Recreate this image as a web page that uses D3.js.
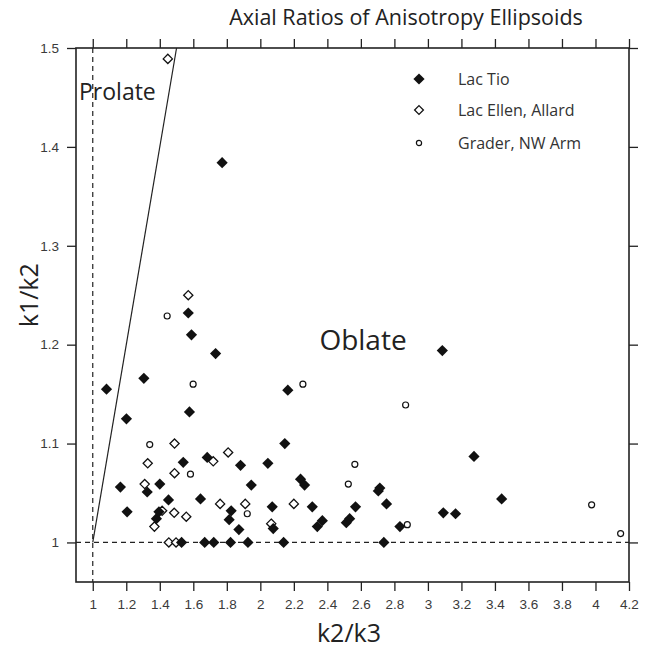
<!DOCTYPE html>
<html>
<head>
<meta charset="utf-8">
<script src="https://cdn.jsdelivr.net/npm/d3@7"></script>
<style>
  body { margin: 0; background: #fff; }
  svg { font-family: "Open Sans", "Noto Sans", sans-serif; }
</style>
</head>
<body>
<svg id="chart" width="649" height="650"></svg>
<script>
'use strict';

// Lac Tio  (filled diamonds) : [k2/k3, k1/k2]
var lacTio = [
	[1.772, 1.384], [1.570, 1.232], [1.589, 1.210], [1.733, 1.191], [1.305, 1.166],
	[1.082, 1.155], [1.201, 1.125], [1.577, 1.132], [1.540, 1.081], [1.683, 1.086],
	[1.882, 1.078], [1.946, 1.058], [1.165, 1.056], [1.205, 1.031], [1.325, 1.051],
	[1.400, 1.059], [1.452, 1.043], [1.643, 1.044], [1.380, 1.024], [1.395, 1.031],
	[1.826, 1.032], [1.814, 1.023], [1.872, 1.013],
	[1.530, 1.000], [1.668, 1.000], [1.722, 1.000], [1.822, 1.000], [1.926, 1.000],
	[2.139, 1.000], [2.737, 1.000],
	[2.164, 1.154], [2.146, 1.100], [2.045, 1.080], [2.240, 1.064], [2.264, 1.058],
	[2.713, 1.055], [2.704, 1.052], [2.071, 1.036], [2.310, 1.036], [2.568, 1.036],
	[2.753, 1.039], [2.077, 1.014], [2.340, 1.016], [2.370, 1.022], [2.513, 1.020],
	[2.533, 1.024], [2.833, 1.016], [3.092, 1.030], [3.165, 1.029], [3.275, 1.087],
	[3.440, 1.044], [3.086, 1.194]
];

// Lac Ellen, Allard (open diamonds)
var lacEllen = [
	[1.448, 1.489], [1.570, 1.250], [1.488, 1.100], [1.328, 1.080], [1.488, 1.070],
	[1.719, 1.082], [1.808, 1.091], [1.310, 1.059], [1.414, 1.032], [1.368, 1.016],
	[1.486, 1.030], [1.558, 1.026], [1.760, 1.039], [1.910, 1.039], [2.200, 1.039],
	[2.065, 1.019], [1.454, 1.000], [1.497, 1.000]
];

// Grader, NW Arm (open circles)
var grader = [
	[1.444, 1.229], [1.599, 1.160], [1.340, 1.099], [1.583, 1.069], [1.922, 1.029],
	[2.254, 1.160], [2.867, 1.139], [2.564, 1.079], [2.525, 1.059], [2.877, 1.018],
	[3.977, 1.038], [4.150, 1.009]
];

var xTicks = [1, 1.2, 1.4, 1.6, 1.8, 2, 2.2, 2.4, 2.6, 2.8, 3, 3.2, 3.4, 3.6, 3.8, 4, 4.2];
var yTicks = [1, 1.1, 1.2, 1.3, 1.4, 1.5];
var seriesNames = ['Lac Tio', 'Lac Ellen, Allard', 'Grader, NW Arm'];

var box = {left: 76, right: 629, top: 48, bottom: 582};

var svg = d3.select('#chart');

var x = d3.scaleLinear().domain([0.9, 4.2]).range([box.left, box.right]);
var y = d3.scaleLinear().domain([0.96, 1.5]).range([box.bottom, box.top]);

function fmt(d) { return d3.format('~g')(d); }

// diamond path centred on 0,0
function diamond(r) {
	return 'M0,' + (-r) + 'L' + r + ',0L0,' + r + 'L' + (-r) + ',0Z';
}

// axes, ticks outward on all four sides
var axStyle = function(g) {
	g.select('.domain').remove();
	g.selectAll('.tick line').attr('stroke', '#222').attr('stroke-width', 1.3);
	g.selectAll('.tick text').attr('fill', '#3a3a3a').style('font-size', '13.5px');
};

svg.append('g')
	.attr('transform', 'translate(0,' + box.bottom + ')')
	.call(d3.axisBottom(x).tickValues(xTicks).tickFormat(fmt).tickSize(9).tickPadding(8))
	.call(axStyle);

svg.append('g')
	.attr('transform', 'translate(0,' + box.top + ')')
	.call(d3.axisTop(x).tickValues(xTicks).tickFormat('').tickSize(9))
	.call(axStyle);

svg.append('g')
	.attr('transform', 'translate(' + box.left + ',0)')
	.call(d3.axisLeft(y).tickValues(yTicks).tickFormat(fmt).tickSize(9).tickPadding(8))
	.call(axStyle);

svg.append('g')
	.attr('transform', 'translate(' + box.right + ',0)')
	.call(d3.axisRight(y).tickValues(yTicks).tickFormat('').tickSize(9))
	.call(axStyle);

// frame
svg.append('rect')
	.attr('x', box.left).attr('y', box.top)
	.attr('width', box.right - box.left).attr('height', box.bottom - box.top)
	.attr('fill', 'none').attr('stroke', '#222').attr('stroke-width', 1.6);

// reference lines
svg.append('line')
	.attr('x1', x(1)).attr('x2', x(1)).attr('y1', y(1.5)).attr('y2', y(0.96))
	.attr('stroke', '#222').attr('stroke-width', 1.2).attr('stroke-dasharray', '5,4');
svg.append('line')
	.attr('x1', x(0.9)).attr('x2', x(4.2)).attr('y1', y(1)).attr('y2', y(1))
	.attr('stroke', '#222').attr('stroke-width', 1.2).attr('stroke-dasharray', '5,4');
// prolate / oblate boundary k1/k2 = k2/k3
svg.append('line')
	.attr('x1', x(1)).attr('y1', y(1)).attr('x2', x(1.5)).attr('y2', y(1.5))
	.attr('stroke', '#222').attr('stroke-width', 1.2);

// points
svg.append('g').selectAll('path').data(lacEllen).join('path')
	.attr('transform', function(d) { return 'translate(' + x(d[0]) + ',' + y(d[1]) + ')'; })
	.attr('d', diamond(4.6))
	.attr('fill', '#fff').attr('stroke', '#111').attr('stroke-width', 1.3);

svg.append('g').selectAll('path').data(lacTio).join('path')
	.attr('transform', function(d) { return 'translate(' + x(d[0]) + ',' + y(d[1]) + ')'; })
	.attr('d', diamond(5.6))
	.attr('fill', '#111');

svg.append('g').selectAll('circle').data(grader).join('circle')
	.attr('cx', function(d) { return x(d[0]); })
	.attr('cy', function(d) { return y(d[1]); })
	.attr('r', 3)
	.attr('fill', '#fff').attr('stroke', '#111').attr('stroke-width', 1.2);

// legend
var leg = svg.append('g').attr('transform', 'translate(419,79)');
leg.append('path').attr('d', diamond(5.6)).attr('fill', '#111');
leg.append('path').attr('transform', 'translate(0,31)').attr('d', diamond(4.4))
	.attr('fill', '#fff').attr('stroke', '#111').attr('stroke-width', 1.3);
leg.append('circle').attr('cx', 0).attr('cy', 64).attr('r', 2.6)
	.attr('fill', '#fff').attr('stroke', '#111').attr('stroke-width', 1.2);
leg.selectAll('text').data(seriesNames).join('text')
	.attr('x', 39).attr('y', function(d, i) { return [0, 31, 64][i]; })
	.attr('dy', '0.35em')
	.attr('fill', '#333').style('font-size', '16px')
	.text(function(d) { return d; });

// labels
svg.append('text').attr('x', 406).attr('y', 25).attr('text-anchor', 'middle')
	.attr('fill', '#222').style('font-size', '21.5px')
	.text('Axial Ratios of Anisotropy Ellipsoids');

svg.append('text').attr('x', 349).attr('y', 642).attr('text-anchor', 'middle')
	.attr('fill', '#222').style('font-size', '25px')
	.text('k2/k3');

svg.append('text').attr('transform', 'translate(38,' + y(1.25) + ') rotate(-90)')
	.attr('text-anchor', 'middle')
	.attr('fill', '#222').style('font-size', '25px')
	.text('k1/k2');

svg.append('text').attr('x', 79).attr('y', 100)
	.attr('fill', '#222').style('font-size', '23px')
	.text('Prolate');

svg.append('text').attr('x', 363).attr('y', 350).attr('text-anchor', 'middle')
	.attr('fill', '#222').style('font-size', '28px')
	.text('Oblate');
</script>
</body>
</html>
